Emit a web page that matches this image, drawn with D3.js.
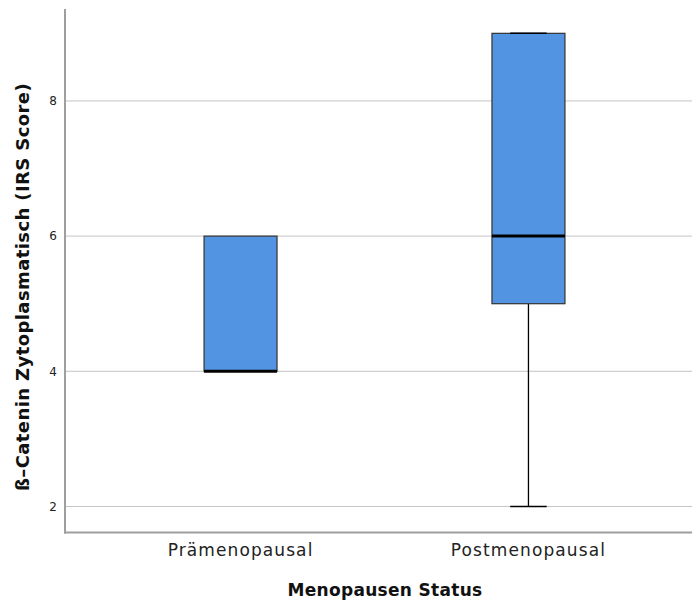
<!DOCTYPE html>
<html><head><meta charset="utf-8">
<script src="https://cdn.jsdelivr.net/npm/d3@7"></script>
<style>body{margin:0;background:#fff}svg{display:block}</style>
</head><body><svg id="c" width="692" height="601"></svg>
<script>
const categories = ["Prämenopausal", "Postmenopausal"];
const whiskerLow = [4, 2];
const q1 = [4, 5];
const median = [4, 6];
const q3 = [6, 9];
const whiskerHigh = [6, 9];
const yTicks = [2, 4, 6, 8];

const svg = d3.select("#c");
const W = 692, H = 601;
const mLeft = 65, mTop = 9, mBottom = 532.5, rightEnd = 704;
const y = d3.scaleLinear().domain([1.615, 9.36]).range([mBottom, mTop]);
const x = d3.scaleBand().domain(categories).range([mLeft, rightEnd]).paddingInner(0.7465).paddingOuter(0.483);
const font = "'DejaVu Sans', sans-serif";

// gridlines
svg.append("g").selectAll("line").data(yTicks).join("line")
  .attr("x1", mLeft).attr("x2", W).attr("y1", d => y(d)).attr("y2", d => y(d))
  .attr("stroke", "#c4c4c4").attr("stroke-width", 1);

// y tick labels
const yAxis = d3.axisLeft(y).tickValues(yTicks).tickSize(0).tickPadding(8);
const ya = svg.append("g").attr("transform", `translate(${mLeft},0)`).call(yAxis);
ya.select(".domain").remove();
ya.selectAll("text").attr("font-family", font).attr("font-size", 12).attr("fill", "#222");

// x axis labels
const xAxis = d3.axisBottom(x).tickSize(0).tickPadding(11);
const xa = svg.append("g").attr("transform", `translate(0,${mBottom})`).call(xAxis);
xa.select(".domain").remove();
xa.selectAll("text").attr("font-family", font).attr("font-size", 17).attr("letter-spacing", 1.1).attr("fill", "#222");

// axis lines
svg.append("line").attr("x1", mLeft).attr("x2", mLeft).attr("y1", mTop).attr("y2", mBottom+1)
  .attr("stroke", "#9e9e9e").attr("stroke-width", 2);
svg.append("line").attr("x1", mLeft-1).attr("x2", W).attr("y1", mBottom).attr("y2", mBottom)
  .attr("stroke", "#9e9e9e").attr("stroke-width", 2);

// boxes
const bw = x.bandwidth();
categories.forEach((c, i) => {
  const cx = x(c) + bw / 2;
  const g = svg.append("g");
  const hasWhisker = whiskerLow[i] < q1[i] || whiskerHigh[i] > q3[i];
  if (whiskerLow[i] < q1[i]) {
    g.append("line").attr("x1", cx).attr("x2", cx).attr("y1", y(q1[i])).attr("y2", y(whiskerLow[i])).attr("stroke", "#000").attr("stroke-width", 1.3);
    g.append("line").attr("x1", cx - bw / 4).attr("x2", cx + bw / 4).attr("y1", y(whiskerLow[i])).attr("y2", y(whiskerLow[i])).attr("stroke", "#000").attr("stroke-width", 1.3);
  }
  if (whiskerHigh[i] > q3[i]) {
    g.append("line").attr("x1", cx).attr("x2", cx).attr("y1", y(q3[i])).attr("y2", y(whiskerHigh[i])).attr("stroke", "#000").attr("stroke-width", 1.3);
  }
  g.append("rect").attr("x", x(c)).attr("width", bw)
    .attr("y", y(q3[i])).attr("height", y(q1[i]) - y(q3[i]))
    .attr("fill", "#5294e2").attr("stroke", "#333").attr("stroke-width", 1.2);
  if (hasWhisker) {
    g.append("line").attr("x1", cx - bw / 4).attr("x2", cx + bw / 4).attr("y1", y(whiskerHigh[i])).attr("y2", y(whiskerHigh[i])).attr("stroke", "#000").attr("stroke-width", 1.5);
  }
  g.append("line").attr("x1", x(c)).attr("x2", x(c) + bw).attr("y1", y(median[i])).attr("y2", y(median[i]))
    .attr("stroke", "#000").attr("stroke-width", 3);
});

// axis titles
svg.append("text").attr("x", 385).attr("y", 596).attr("text-anchor", "middle")
  .attr("font-family", font).attr("font-weight", "bold").attr("font-size", 17).attr("letter-spacing", 0.3).attr("fill", "#111")
  .text("Menopausen Status");
svg.append("text").attr("transform", `translate(29,287) rotate(-90)`).attr("text-anchor", "middle")
  .attr("font-family", font).attr("font-weight", "bold").attr("font-size", 18).attr("letter-spacing", 0.4).attr("fill", "#111")
  .text("ß–Catenin Zytoplasmatisch (IRS Score)");
</script></body></html>
